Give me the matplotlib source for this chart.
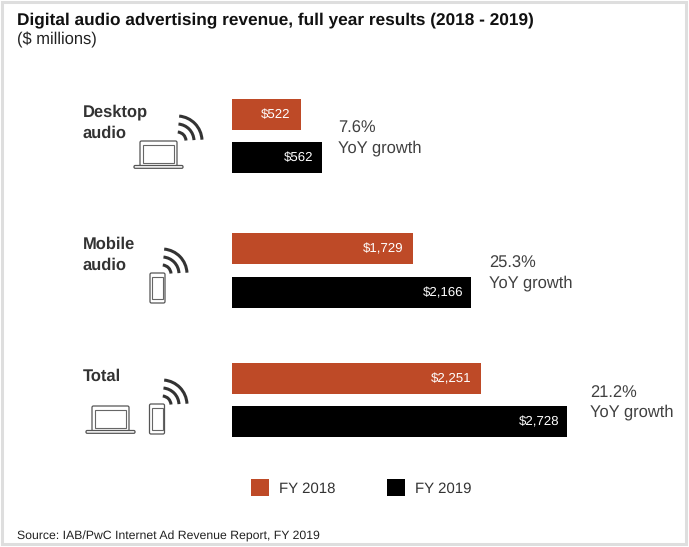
"""Digital audio advertising revenue, FY 2018 vs FY 2019."""

import numpy as np
import matplotlib
matplotlib.use("Agg")
import matplotlib.pyplot as plt
from matplotlib.patches import Rectangle, FancyBboxPatch, Arc

plt.rcParams["font.family"] = ["Liberation Sans", "DejaVu Sans"]
plt.rcParams["text.hinting"] = "no_hinting"
plt.rcParams["text.hinting_factor"] = 8

W, H = 689, 547
ORANGE = "#BE4A27"
BLACK = "#000000"
DARK = "#333333"

groups = ["Desktop\naudio", "Mobile\naudio", "Total"]
fy2018 = [522, 1729, 2251]
fy2019 = [562, 2166, 2728]
growth = ["7.6%", "25.3%", "21.2%"]
series_names = ["FY 2018", "FY 2019"]

# the bars in the original are not to scale, so the axis is bent to follow them
scale_vals = [0, 522, 562, 1729, 2166, 2251, 2728, 3000]
scale_px = [0, 69, 90, 181, 239, 249, 335, 457]

fig = plt.figure(figsize=(W / 100, H / 100), dpi=100, facecolor="white")

# pixel canvas for frame, text and icons
bg = fig.add_axes([0, 0, 1, 1])
bg.set_xlim(0, W)
bg.set_ylim(H, 0)
bg.axis("off")
bg.add_patch(Rectangle((1.5, 1.5), W - 4.5, H - 4.5, fc="white", ec="#DEDEDE", lw=2.2))

# bars
ax = fig.add_axes([232 / W, 0, 1 - 232 / W, 1])
ax.patch.set_alpha(0)
ax.set_xscale("function", functions=(
    lambda v: np.interp(v, scale_vals, scale_px),
    lambda p: np.interp(p, scale_px, scale_vals),
))
ax.set_xlim(0, 3000)
ax.set_ylim(H, 0)
ax.axis("off")

y18 = [114.5, 248.5, 378.5]
y19 = [157.5, 292.5, 421.5]
ax.barh(y18, fy2018, height=31, color=ORANGE)
ax.barh(y19, fy2019, height=31, color=BLACK)

for y, v, pad in zip(y18 + y19, fy2018 + fy2019, [-11, -10, -10, -9, -8, -8]):
    ax.annotate(f"${v:,}", (v, y), xytext=(pad * 0.72, 0), textcoords="offset points",
                ha="right", va="center", color="white", fontsize=9.5)

# titles
bg.text(17, 20, "Digital audio advertising revenue, full year results (2018 - 2019)",
        fontsize=12.45, fontweight="bold", color="#111111", va="center")
bg.text(17, 39.5, "($ millions)", fontsize=11.9, color="#222222", va="center")

# group labels
for (x, y), name in zip([(83, 123), (83, 255), (83, 376)], groups):
    bg.text(x, y, name, fontsize=11.9, fontweight="bold", color=DARK, va="center",
            linespacing=1.45)

# growth notes
for (x, y), g in zip([(338, 138), (489, 273), (590, 402)], growth):
    bg.text(x, y, f"{g}\nYoY growth", fontsize=11.9, color="#404040", va="center",
            linespacing=1.3)


def laptop(x, y, w=49, h=28):
    bg.add_patch(FancyBboxPatch((x + 6, y), w - 12, h - 3, boxstyle="round,pad=0,rounding_size=1.5",
                                fc="white", ec="#555555", lw=0.9))
    bg.add_patch(Rectangle((x + 9, y + 3.5), w - 18, h - 10, fc="white", ec="#666666", lw=0.8))
    bg.add_patch(FancyBboxPatch((x, y + h - 3.5), w, 2.8, boxstyle="round,pad=0,rounding_size=1.2",
                                fc="white", ec="#555555", lw=0.9))


def phone(x, y, w=15, h=30):
    bg.add_patch(FancyBboxPatch((x, y), w, h, boxstyle="round,pad=0,rounding_size=1.5",
                                fc="white", ec="#555555", lw=0.9))
    bg.add_patch(Rectangle((x + 2, y + 3.5), w - 4, h - 8, fc="white", ec="#666666", lw=0.8))


def waves(x, y):
    # quarter arcs opening to the lower left
    for r in [9, 17, 25]:
        bg.add_patch(Arc((x, y), 2 * r, 2 * r, theta1=-85, theta2=-3, ec="#333333", lw=2.2))


laptop(134, 141)
waves(177, 141)
phone(150, 273)
waves(162, 274)
laptop(86, 406)
phone(149.5, 404)
waves(162, 405)

# legend
for x, color, name in zip([251, 387], [ORANGE, BLACK], series_names):
    bg.add_patch(Rectangle((x, 479), 18, 17, fc=color, ec="none"))
    bg.text(x + 28, 488.5, name, fontsize=10.8, color="#333333", va="center")

bg.text(17, 536, "Source: IAB/PwC Internet Ad Revenue Report, FY 2019", fontsize=8.8,
        color="#222222", va="center")

fig.savefig("out.png", dpi=100)
plt.close(fig)
